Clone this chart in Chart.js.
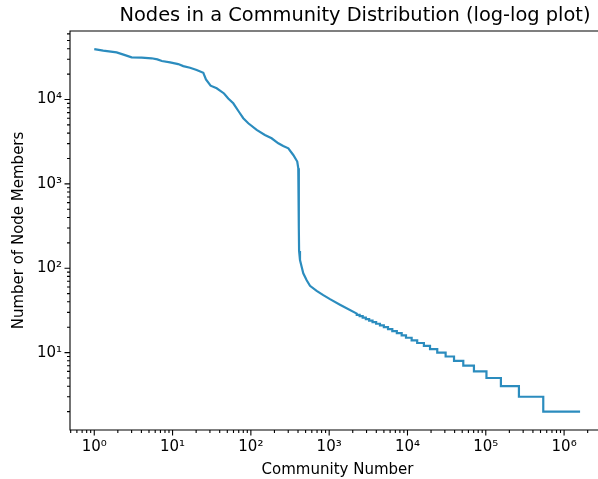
<!DOCTYPE html>
<html>
<head>
<meta charset="utf-8">
<script src="https://cdn.jsdelivr.net/npm/chart.js@4.4.1/dist/chart.umd.min.js"></script>
<style>
  html, body { margin: 0; padding: 0; background: #fff; overflow: hidden; }
  #wrap { width: 710px; height: 479px; }
</style>
</head>
<body>
<div id="wrap"><canvas id="myChart" width="710" height="479"></canvas></div>
<script>
"use strict";

// upper (smooth) part of the curve: community rank -> members
const ranks = [1, 1.3, 1.93, 2.47, 3.0, 4.03, 5.4, 6.4, 7.3, 9.3, 11.8, 13.7, 16.7, 20.3, 24.7, 26.7,
  30.6, 36.6, 45.4, 51.4, 59.6, 71, 80, 92.7, 118.6, 151, 184, 224, 259, 301, 348, 391, 403,
  408, 410, 411, 413, 424, 445, 467, 516, 569, 692, 841, 1024, 1374, 2250];
const sizes = [39600, 37900, 36200, 33600, 31600, 31300, 30800, 29900, 28600, 27600, 26300, 24900, 23800, 22400, 20700, 17300,
  14600, 13600, 11800, 10300, 9020, 7060, 6000, 5230, 4360, 3800, 3470, 3030, 2810, 2640, 2200, 1840, 1535,
  1300, 700, 300, 160, 125, 104, 87, 72, 62, 54, 48, 43, 37, 29];

// staircase tail: member count of each step and the rank where it ends
const stepSizes = [28, 27, 26, 25, 24, 23, 22, 21, 20, 19, 18, 17, 16, 15, 14, 13, 12, 11, 10, 9, 8, 7, 6, 5, 4, 3, 2];
const stepEnds = [2450, 2680, 2940, 3240, 3580, 3980, 4450, 4990, 5640, 6400, 7310, 8430, 9570, 11300, 13300, 16200,
  19400, 24000, 30700, 39300, 51600, 70600, 102000, 156000, 265000, 542000, 1600000];

const xTickValues = [1, 10, 100, 1000, 10000, 100000, 1000000];
const xTickLabels = ["10⁰", "10¹", "10²", "10³", "10⁴", "10⁵", "10⁶"];
const yTickValues = [10, 100, 1000, 10000];
const yTickLabels = ["10¹", "10²", "10³", "10⁴"];

let points = ranks.map((r, i) => ({ x: r, y: sizes[i] }));
let prevEnd = ranks[ranks.length - 1];
stepSizes.forEach((s, i) => {
  points.push({ x: prevEnd, y: s });
  points.push({ x: stepEnds[i], y: s });
  prevEnd = stepEnds[i];
});

// frame + matplotlib-like log tick marks (long on decades, short in between)
const frameTicks = {
  id: "frameTicks",
  afterDraw(chart) {
    const { ctx, chartArea: a, scales } = chart;
    ctx.save();
    ctx.strokeStyle = "#000";
    ctx.lineWidth = 1.1;
    ctx.beginPath();
    ctx.rect(a.left, a.top, a.right - a.left, a.bottom - a.top);
    ctx.stroke();
    ctx.beginPath();
    for (let d = -1; d <= 7; d++) {
      for (let m = 1; m <= 9; m++) {
        const v = m * Math.pow(10, d);
        const len = m === 1 ? 5.5 : 3;
        const px = scales.x.getPixelForValue(v);
        if (px >= a.left && px <= a.right) {
          ctx.moveTo(px, a.bottom);
          ctx.lineTo(px, a.bottom + len);
        }
        const py = scales.y.getPixelForValue(v);
        if (py >= a.top && py <= a.bottom) {
          ctx.moveTo(a.left, py);
          ctx.lineTo(a.left - len, py);
        }
      }
    }
    ctx.stroke();
    ctx.restore();
  },
};

const font = "'DejaVu Sans', sans-serif";
const ctx = document.getElementById("myChart");

new Chart(ctx, {
  type: "scatter",
  data: {
    datasets: [
      {
        data: points,
        showLine: true,
        borderColor: "#2b8cbe",
        borderWidth: 2.2,
        pointRadius: 0,
        tension: 0,
      },
    ],
  },
  options: {
    responsive: false,
    animation: false,
    layout: { padding: 0 },
    plugins: {
      legend: { display: false },
      tooltip: { enabled: false },
      title: {
        display: true,
        text: "Nodes in a Community Distribution (log-log plot)",
        color: "#000",
        font: { family: font, size: 19.4, weight: "normal", lineHeight: 1.2 },
        padding: { top: 4, bottom: 3.7 },
      },
    },
    scales: {
      x: {
        type: "logarithmic",
        min: 0.49,
        max: 3.33e6,
        grid: { display: false, drawTicks: false },
        border: { display: false },
        afterBuildTicks: (axis) => {
          axis.ticks = xTickValues.map((v) => ({ value: v }));
        },
        afterFit: (axis) => {
          axis.height = 49;
        },
        ticks: {
          autoSkip: false,
          maxRotation: 0,
          padding: 8.5,
          color: "#000",
          font: { family: font, size: 15 },
          callback: (value) => xTickLabels[xTickValues.indexOf(value)],
        },
        title: {
          display: true,
          text: "Community Number",
          color: "#000",
          font: { family: font, size: 15, lineHeight: 1.2 },
          padding: { top: 0, bottom: 0 },
        },
      },
      y: {
        type: "logarithmic",
        min: 1.21,
        max: 64900,
        grid: { display: false, drawTicks: false },
        border: { display: false },
        afterBuildTicks: (axis) => {
          axis.ticks = yTickValues.map((v) => ({ value: v }));
        },
        afterFit: (axis) => {
          axis.width = 70;
        },
        ticks: {
          autoSkip: false,
          padding: 8,
          color: "#000",
          font: { family: font, size: 15 },
          callback: (value) => yTickLabels[yTickValues.indexOf(value)],
        },
        title: {
          display: true,
          text: "Number of Node Members",
          color: "#000",
          font: { family: font, size: 15, lineHeight: 1.2 },
          padding: { top: 10, bottom: 0 },
        },
      },
      // empty right-hand box: keeps the plot area where the picture cuts it off
      // while the title stays centred on the full figure width
      spare: {
        type: "linear",
        position: "right",
        grid: { display: false, drawTicks: false },
        border: { display: false },
        ticks: { display: false },
        afterFit: (axis) => {
          axis.width = 105;
        },
      },
    },
  },
  plugins: [frameTicks],
});
</script>
</body>
</html>
